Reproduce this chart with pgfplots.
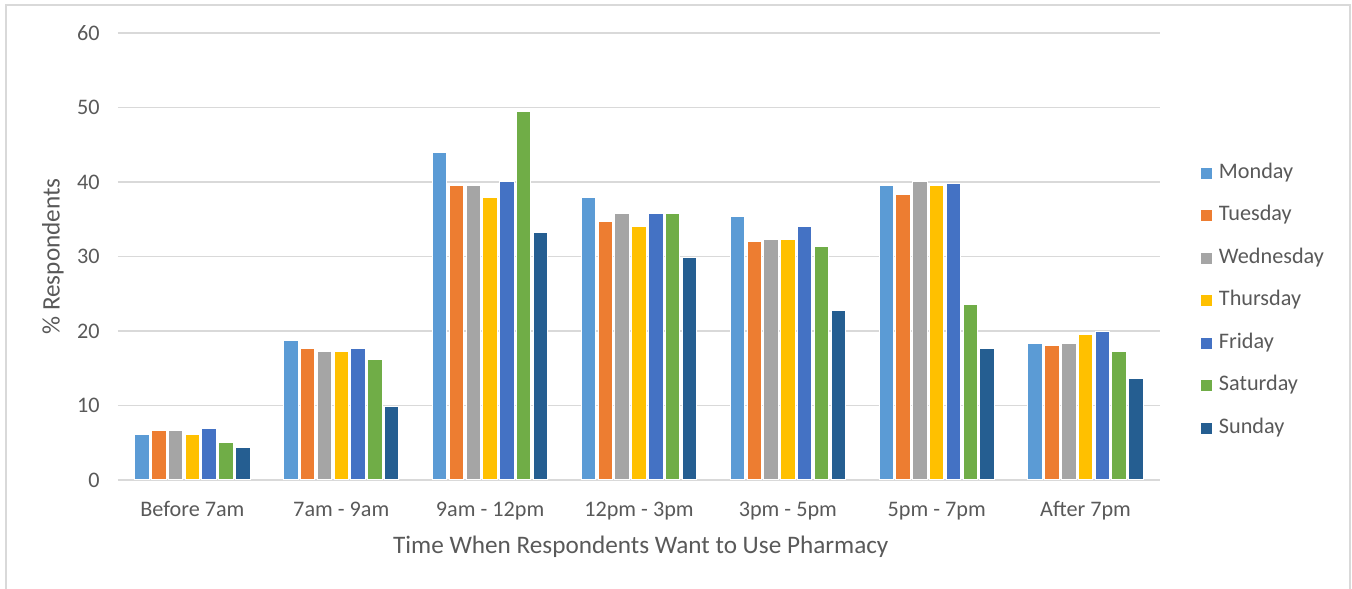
\documentclass[border=0pt]{standalone}
\usepackage{pgfplots}
\pgfplotsset{compat=1.18}
\usepackage{fontspec}
\setmainfont{Carlito}
\definecolor{txt}{HTML}{595959}
\definecolor{grd}{HTML}{D9D9D9}
\definecolor{cMon}{HTML}{5B9BD5}
\definecolor{cTue}{HTML}{ED7D31}
\definecolor{cWed}{HTML}{A5A5A5}
\definecolor{cThu}{HTML}{FFC000}
\definecolor{cFri}{HTML}{4472C4}
\definecolor{cSat}{HTML}{70AD47}
\definecolor{cSun}{HTML}{255E91}
\begin{document}
\begin{tikzpicture}
\useasboundingbox (0,0) rectangle (676pt,294pt);
\clip (0,0) rectangle (676pt,294pt);
\draw[grd, line width=1pt] (3pt,-10pt) rectangle (675pt,291.5pt);
\begin{axis}[
  at={(59pt,54pt)}, anchor=south west, scale only axis,
  width=521pt, height=223.5pt,
  xmin=-0.5, xmax=6.5, ymin=0, ymax=60,
  ytick={0,10,...,60},
  xtick={0,...,6},
  xticklabels={Before 7am, 7am - 9am, 9am - 12pm, 12pm - 3pm, 3pm - 5pm, 5pm - 7pm, After 7pm},
  ymajorgrids, grid style={grd, line width=0.95pt},
  axis line style={draw=none},
  major tick length=0pt,
  /pgf/number format/assume math mode=true,
  ybar=1.15pt, bar width=7.25pt,
  ticklabel style={font=\fontsize{11.1}{13}\selectfont, text=txt},
  yticklabel style={anchor=east, inner sep=0pt, xshift=-9pt},
  xticklabel style={anchor=base, inner sep=0pt, yshift=-18.5pt},
  xlabel={Time When Respondents Want to Use Pharmacy},
  ylabel={\% Respondents},
  xlabel style={at={(axis description cs:0.5017,-0.164)}, anchor=base, inner sep=0pt, font=\fontsize{12.6}{15}\selectfont, text=txt},
  ylabel style={at={(axis description cs:-0.0624,0.5)}, anchor=center, inner sep=0pt, font=\fontsize{12.6}{15}\selectfont, text=txt},
  legend style={draw=none, fill=none, at={(axis description cs:1.039,0.7107)}, anchor=north west,
    inner sep=0pt, outer sep=0pt, row sep=10.75pt, column sep=3.65pt,
    font=\fontsize{11.1}{13}\selectfont, text=txt,
    nodes={inner sep=0pt, text height=8pt, text depth=2.5pt, anchor=base west}},
  legend cell align=left,
  legend image code/.code={\fill[#1,draw=none] (0pt,-0.25pt) rectangle (5.5pt,5.25pt);},
  every axis plot/.append style={draw=white, line width=0.5pt},
]
\addplot[fill=cMon] coordinates {(0,6.1) (1,18.7) (2,43.9) (3,37.9) (4,35.4) (5,39.5) (6,18.35)};
\addplot[fill=cTue] coordinates {(0,6.7) (1,17.7) (2,39.5) (3,34.7) (4,32.0) (5,38.3) (6,18.1)};
\addplot[fill=cWed] coordinates {(0,6.7) (1,17.2) (2,39.5) (3,35.8) (4,32.3) (5,40.1) (6,18.35)};
\addplot[fill=cThu] coordinates {(0,6.1) (1,17.2) (2,37.9) (3,34.0) (4,32.3) (5,39.5) (6,19.5)};
\addplot[fill=cFri] coordinates {(0,6.9) (1,17.7) (2,40.1) (3,35.8) (4,34.0) (5,39.8) (6,19.9)};
\addplot[fill=cSat] coordinates {(0,5.1) (1,16.2) (2,49.5) (3,35.8) (4,31.3) (5,23.5) (6,17.2)};
\addplot[fill=cSun] coordinates {(0,4.3) (1,9.9) (2,33.2) (3,29.9) (4,22.8) (5,17.7) (6,13.6)};
\legend{Monday,Tuesday,Wednesday,Thursday,Friday,Saturday,Sunday}
\end{axis}
\end{tikzpicture}
\end{document}
